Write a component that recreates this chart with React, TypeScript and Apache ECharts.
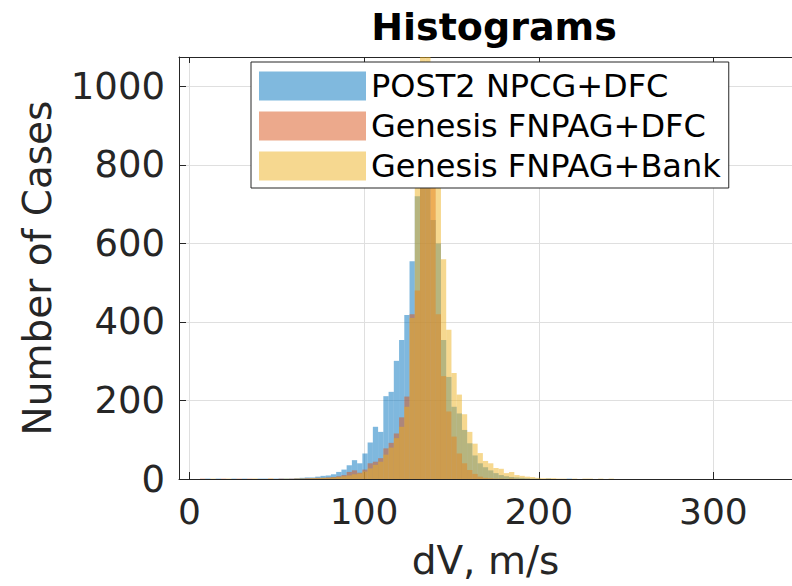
import React, { useEffect, useRef } from "react";
import * as echarts from "echarts";

// ---- data ----
const BIN_START = 0;
const BIN_WIDTH = 3;
const seriesNames = ["POST2 NPCG+DFC", "Genesis FNPAG+DFC", "Genesis FNPAG+Bank"];
const xTickValues = [0, 100, 200, 300];
const yTickValues = [0, 200, 400, 600, 800, 1000];

// counts per 3 m/s bin, bins start at 0
const post2Counts = [
  0, 0, 0, 1, 0, 1, 0, 0, 1, 0, 1, 0, 0, 1, 1, 0, 1, 1, 1, 1,
  2, 3, 4, 4, 6, 8, 9, 12, 18, 24,
  35, 48, 40, 65, 93, 133, 120, 211, 222, 301,
  354, 418, 555, 720, 820, 780, 660, 600, 354, 260,
  184, 167, 125, 91, 60, 40, 30, 22, 15, 10,
  7, 5, 4, 3, 2, 1, 1, 0, 1, 0,
  0, 0, 1, 0, 0, 0, 0, 0, 0, 0, 0, 0, 0,
];
const fnpagDfcCounts = [
  0, 0, 1, 0, 0, 0, 1, 0, 0, 1, 0, 1, 0, 0, 0, 1, 0, 1, 0, 1,
  1, 1, 2, 2, 3, 3, 4, 5, 7, 10,
  18, 22, 16, 24, 40, 44, 53, 78, 92, 116,
  157, 210, 420, 480, 960, 940, 780, 420, 262, 172,
  108, 65, 40, 23, 13, 6, 3, 2, 1, 1,
  0, 1, 0, 0, 0, 0, 0, 0, 0, 0,
  0, 0, 0, 0, 0, 0, 0, 0, 0, 0, 0, 0, 0,
];
const fnpagBankCounts = [
  0, 0, 0, 0, 1, 0, 0, 1, 0, 0, 0, 0, 1, 0, 0, 1, 0, 0, 1, 0,
  1, 1, 1, 2, 2, 3, 3, 4, 5, 7,
  9, 12, 14, 19, 27, 36, 44, 62, 80, 104,
  133, 184, 410, 760, 1110, 1100, 900, 760, 560, 380,
  270, 215, 165, 120, 90, 66, 46, 40, 28, 26,
  15, 18, 10, 8, 6, 5, 3, 2, 2, 2,
  1, 1, 0, 1, 0, 1, 1, 0, 1, 0, 1, 0, 0,
];

const baseColors = ["rgba(0,114,189,0.5)", "rgba(217,83,25,0.5)", "rgba(237,177,32,0.5)"];
const legendColors = ["#80b9de", "#eca98c", "#f6d890"];

const FONT = "DejaVu Sans";
const AX = "#262626";

function toBins(counts: number[]) {
  return counts
    .map((c, i) => [BIN_START + i * BIN_WIDTH, BIN_START + (i + 1) * BIN_WIDTH, c])
    .filter((d) => d[2] > 0);
}

function histSeries(name: string, counts: number[], fill: string, legendColor: string) {
  return {
    type: "custom",
    name,
    clip: true,
    itemStyle: { color: legendColor },
    encode: { x: [0, 1], y: 2 },
    data: toBins(counts),
    renderItem: (params: any, api: any) => {
      const x0 = api.value(0);
      const x1 = api.value(1);
      const y = api.value(2);
      const p0 = api.coord([x0, y]);
      const p1 = api.coord([x1, 0]);
      return {
        type: "rect",
        shape: { x: p0[0], y: p0[1], width: p1[0] - p0[0], height: p1[1] - p0[1] },
        style: { fill, stroke: null },
      };
    },
  };
}

export default function App() {
  const ref = useRef<HTMLDivElement>(null);
  useEffect(() => {
    if (!ref.current) return;
    const chart = echarts.init(ref.current, null, { renderer: "svg" });
    const xMin = -6;
    const xMax = 345;
    const yMax = 1075;
    chart.setOption({
      animation: false,
      backgroundColor: "#ffffff",
      title: {
        text: "Histograms",
        left: 494,
        top: 8,
        padding: 0,
        textAlign: "center",
        textVerticalAlign: "top",
        textStyle: { fontFamily: FONT, fontWeight: "bold", fontSize: 38, color: "#000" },
      },
      legend: {
        orient: "vertical",
        left: 251,
        top: 62,
        padding: [8, 8, 6, 8],
        itemWidth: 107,
        itemHeight: 29,
        itemGap: 8,
        icon: "rect",
        backgroundColor: "#ffffff",
        borderColor: AX,
        borderWidth: 1,
        z: 10,
        textStyle: { fontFamily: FONT, fontSize: 32, color: "#000" },
        data: seriesNames.map((n, i) => ({ name: n, itemStyle: { color: legendColors[i] } })),
      },
      grid: { left: 179, top: 57, right: -14, bottom: 107, containLabel: false },
      xAxis: [
        {
          type: "value",
          position: "bottom",
          min: xMin,
          max: xMax,
          name: "dV, m/s",
          nameLocation: "middle",
          nameGap: 62,
          nameTextStyle: { fontFamily: FONT, fontSize: 39, color: AX },
          axisLine: { show: true, onZero: false, lineStyle: { color: AX, width: 1 } },
          axisTick: { show: true, inside: true, length: 7, customValues: xTickValues, lineStyle: { color: AX } },
          axisLabel: {
            customValues: xTickValues,
            margin: 14,
            fontFamily: FONT,
            fontSize: 36,
            color: AX,
          },
          splitLine: { show: true, lineStyle: { color: "#dfdfdf", width: 1 } },
        },
        {
          type: "value",
          position: "top",
          min: xMin,
          max: xMax,
          axisLine: { show: true, onZero: false, lineStyle: { color: AX, width: 1 } },
          axisTick: { show: true, inside: true, length: 6, customValues: xTickValues, lineStyle: { color: AX } },
          axisLabel: { show: false },
          splitLine: { show: false },
        },
      ],
      yAxis: {
        type: "value",
        min: 0,
        max: yMax,
        interval: 200,
        name: "Number of Cases",
        nameLocation: "middle",
        nameGap: 122,
        nameTextStyle: { fontFamily: FONT, fontSize: 39, color: AX },
        axisLine: { show: true, onZero: false, lineStyle: { color: AX, width: 1 } },
        axisTick: { show: true, inside: true, length: 7, lineStyle: { color: AX } },
        axisLabel: {
          showMaxLabel: false,
          margin: 14,
          fontFamily: FONT,
          fontSize: 37,
          color: AX,
          formatter: (v: number) => (yTickValues.includes(v) ? String(v) : ""),
        },
        splitLine: { show: true, lineStyle: { color: "#dfdfdf", width: 1 } },
      },
      series: [
        histSeries(seriesNames[0], post2Counts, baseColors[0], legendColors[0]),
        histSeries(seriesNames[1], fnpagDfcCounts, baseColors[1], legendColors[1]),
        histSeries(seriesNames[2], fnpagBankCounts, baseColors[2], legendColors[2]),
      ],
    });
    return () => chart.dispose();
  }, []);
  return (
    <div
      ref={ref}
      style={{ position: "absolute", left: 0, top: 0, width: 792, height: 586, background: "#fff" }}
    />
  );
}
